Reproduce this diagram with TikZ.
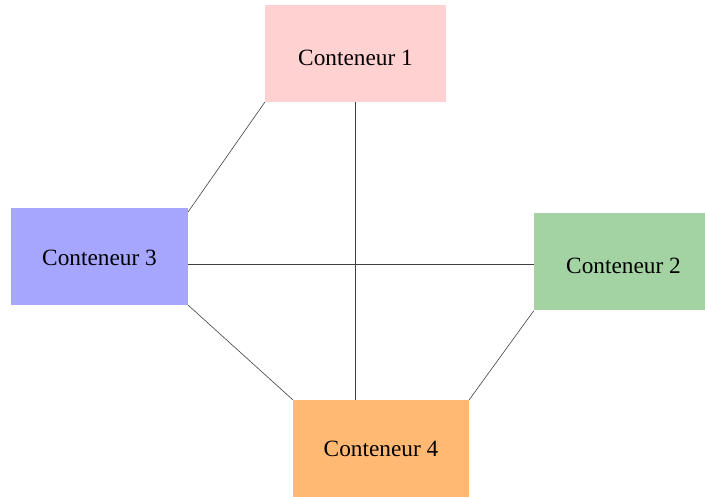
\documentclass[tikz,border=0pt]{standalone}
\usepackage{fontspec}
\setmainfont{Liberation Serif}
\definecolor{cpink}{HTML}{FFD1D1}
\definecolor{cblue}{HTML}{A6A6FF}
\definecolor{cgreen}{HTML}{A3D3A3}
\definecolor{corange}{HTML}{FFB973}
\newcommand{\lowtext}[2]{\raisebox{-#1}[\height][\depth]{#2}}
\begin{document}
\begin{tikzpicture}[x=1pt,y=-1pt,
  box/.style={rectangle,draw=none,minimum width=#1,minimum height=97pt,inner sep=0pt,font=\fontsize{23.3}{27}\selectfont},
  link/.style={draw=black!75,line width=0.6pt}]
\useasboundingbox (0,0) rectangle (705,497);
\node[box=181pt,fill=cpink]   (c1) at (355.5,53.5) {\lowtext{4pt}{Conteneur 1}};
\node[box=171pt,fill=cgreen]  (c2) at (619.5,262) {\hspace*{8pt}\lowtext{4pt}{Conteneur 2}};
\node[box=177pt,fill=cblue]   (c3) at (99.5,256.5) {\lowtext{1pt}{Conteneur 3}};
\node[box=176pt,fill=corange] (c4) at (381,448.5) {\lowtext{0pt}{Conteneur 4}};
\draw[link] (c1.south west) -- ([yshift=-4pt]c3.north east);
\draw[link] (c1.south) -- (c1.south |- c4.north);
\draw[link] ([yshift=-2pt]c2.west -| c3.east) -- ([yshift=-2pt]c2.west);
\draw[link] (c3.south east) -- (c4.north west);
\draw[link] (c2.south west) -- (c4.north east);
\end{tikzpicture}
\end{document}
